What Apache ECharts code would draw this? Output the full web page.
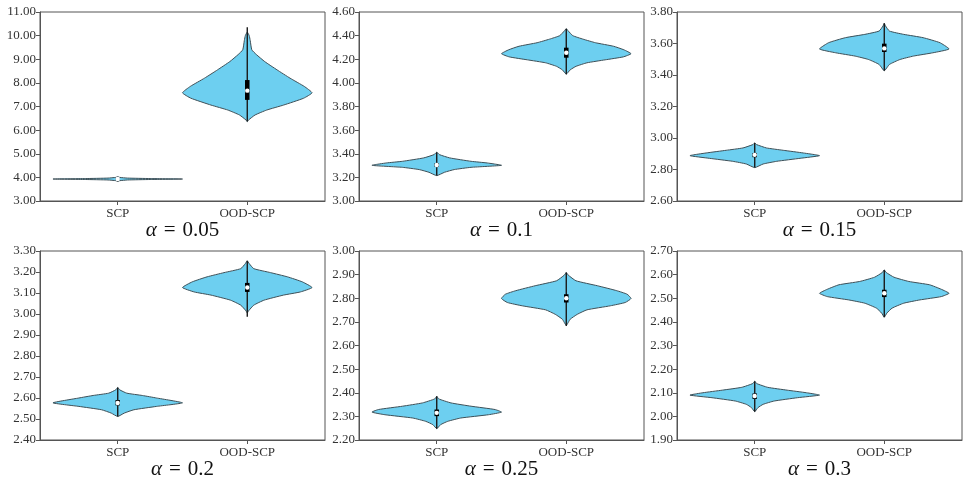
<!DOCTYPE html>
<html>
<head>
<meta charset="utf-8">
<script src="https://cdn.jsdelivr.net/npm/echarts@6/dist/echarts.min.js"></script>
<style>
  html, body { margin: 0; padding: 0; background: #fff; }
  #chart { width: 969px; height: 485px; }
</style>
</head>
<body>
<div id="chart"></div>
<script>
// panel labels and axes
const alphas = ['0.05', '0.1', '0.15', '0.2', '0.25', '0.3'];
const categories = ['SCP', 'OOD-SCP'];
const yMin = [3, 3.0, 2.6, 2.4, 2.2, 1.9];
const yMax = [11, 4.6, 3.8, 3.3, 3.0, 2.7];
const yStep = [1, 0.2, 0.2, 0.1, 0.1, 0.1];

// violin outlines: [value, relative half width]
const scpProfiles = [
  [[4.03, 0], [4.0, 0.03], [3.97, 0.15], [3.95, 0.5], [3.93, 1], [3.91, 0.5], [3.89, 0.15], [3.86, 0.03], [3.83, 0]],
  [[3.413, 0], [3.393, 0.04], [3.365, 0.2], [3.336, 0.53], [3.322, 0.78], [3.302, 1], [3.285, 0.53], [3.266, 0.27], [3.243, 0.12], [3.215, 0]],
  [[2.969, 0], [2.958, 0.03], [2.937, 0.18], [2.922, 0.44], [2.905, 0.75], [2.888, 1], [2.871, 0.7], [2.852, 0.34], [2.835, 0.13], [2.812, 0]],
  [[2.65, 0], [2.639, 0.03], [2.623, 0.14], [2.612, 0.38], [2.6, 0.6], [2.577, 1], [2.56, 0.6], [2.544, 0.25], [2.528, 0.1], [2.512, 0]],
  [[2.385, 0], [2.374, 0.03], [2.357, 0.22], [2.343, 0.53], [2.329, 0.9], [2.318, 1], [2.307, 0.8], [2.293, 0.37], [2.279, 0.17], [2.265, 0.06], [2.248, 0]],
  [[2.149, 0], [2.139, 0.03], [2.123, 0.2], [2.111, 0.5], [2.10, 0.8], [2.09, 1], [2.079, 0.66], [2.065, 0.3], [2.051, 0.13], [2.037, 0.05], [2.02, 0]]
];
const oodProfiles = [
  [[10.15, 0], [10.0, 0.03], [9.8, 0.045], [9.4, 0.07], [9.2, 0.14], [8.9, 0.27], [8.55, 0.46], [8.2, 0.66], [7.85, 0.88], [7.58, 1], [7.35, 0.87], [7.06, 0.56], [6.85, 0.3], [6.64, 0.12], [6.43, 0.02], [6.36, 0]],
  [[4.459, 0], [4.44, 0.03], [4.40, 0.1], [4.37, 0.26], [4.34, 0.45], [4.31, 0.73], [4.28, 0.89], [4.247, 1], [4.22, 0.88], [4.195, 0.6], [4.17, 0.32], [4.14, 0.15], [4.11, 0.06], [4.074, 0]],
  [[3.728, 0], [3.711, 0.02], [3.679, 0.08], [3.658, 0.3], [3.637, 0.6], [3.605, 0.86], [3.565, 1], [3.541, 0.75], [3.52, 0.45], [3.498, 0.24], [3.467, 0.08], [3.427, 0]],
  [[3.253, 0], [3.24, 0.03], [3.216, 0.1], [3.197, 0.36], [3.177, 0.62], [3.153, 0.85], [3.126, 1], [3.105, 0.82], [3.09, 0.56], [3.066, 0.26], [3.042, 0.1], [3.015, 0.02], [3.005, 0]],
  [[2.909, 0], [2.898, 0.03], [2.874, 0.15], [2.853, 0.48], [2.832, 0.78], [2.817, 0.94], [2.799, 1], [2.782, 0.91], [2.768, 0.68], [2.751, 0.32], [2.732, 0.17], [2.711, 0.06], [2.685, 0]],
  [[2.62, 0], [2.609, 0.03], [2.589, 0.15], [2.571, 0.38], [2.557, 0.7], [2.538, 0.88], [2.521, 1], [2.507, 0.88], [2.493, 0.55], [2.479, 0.3], [2.458, 0.12], [2.437, 0.04], [2.42, 0]]
];

// inner box: [whisker low, q1, median, q3, whisker high]
const scpStats = [
  [3.83, 3.91, 3.93, 3.95, 4.03],
  [3.215, 3.29, 3.305, 3.32, 3.413],
  [2.812, 2.878, 2.893, 2.905, 2.969],
  [2.512, 2.565, 2.576, 2.59, 2.65],
  [2.248, 2.301, 2.315, 2.329, 2.385],
  [2.02, 2.074, 2.086, 2.097, 2.149]
];
const oodStats = [
  [6.36, 7.28, 7.67, 8.12, 10.35],
  [4.074, 4.213, 4.255, 4.298, 4.459],
  [3.427, 3.546, 3.569, 3.599, 3.728],
  [2.987, 3.105, 3.126, 3.148, 3.253],
  [2.683, 2.782, 2.800, 2.817, 2.909],
  [2.42, 2.505, 2.521, 2.536, 2.62]
];

const font = 'Liberation Serif, Times New Roman, serif';
const gridLeft = [40, 359, 677];
const gridTop = [12, 251];
const gridW = 285, gridH = 189;
const halfWidth = 0.5;

const chart = echarts.init(document.getElementById('chart'));

const grids = [], xAxes = [], yAxes = [], series = [], graphics = [];

alphas.forEach((a, p) => {
  const col = p % 3, row = Math.floor(p / 3);
  grids.push({
    left: gridLeft[col], top: gridTop[row], width: gridW, height: gridH,
    show: true, borderColor: '#555', borderWidth: 1, backgroundColor: 'transparent'
  });
  xAxes.push({
    type: 'value', gridIndex: p, min: 0.4, max: 2.6,
    axisLine: { show: true, lineStyle: { color: '#555' } },
    axisTick: { show: true, customValues: [1, 2], length: 4, lineStyle: { color: '#555' } },
    axisLabel: {
      customValues: [1, 2], margin: 6, color: '#333', fontFamily: font, fontSize: 13,
      formatter: v => categories[Math.round(v) - 1]
    },
    splitLine: { show: false }
  });
  yAxes.push({
    type: 'value', gridIndex: p, min: yMin[p], max: yMax[p], interval: yStep[p],
    axisLine: { show: true, lineStyle: { color: '#555' } },
    axisTick: { show: true, length: 4, lineStyle: { color: '#555' } },
    axisLabel: { margin: 4, color: '#333', fontFamily: font, fontSize: 13, formatter: v => v.toFixed(2) },
    splitLine: { show: false }
  });
  series.push({
    type: 'custom', xAxisIndex: p, yAxisIndex: p,
    data: [[1, scpStats[p][2]], [2, oodStats[p][2]]],
    renderItem: (params, api) => {
      const k = params.dataIndex;
      const prof = (k === 0 ? scpProfiles : oodProfiles)[p];
      const st = (k === 0 ? scpStats : oodStats)[p];
      const xc = api.value(0);
      const right = prof.map(([y, w]) => api.coord([xc + w * halfWidth, y]));
      const left = prof.slice(1, -1).reverse().map(([y, w]) => api.coord([xc - w * halfWidth, y]));
      const lo = api.coord([xc, st[0]]), q1 = api.coord([xc, st[1]]);
      const md = api.coord([xc, st[2]]), q3 = api.coord([xc, st[3]]);
      const hi = api.coord([xc, st[4]]);
      return {
        type: 'group',
        children: [
          { type: 'polygon', shape: { points: right.concat(left), smooth: 0.15 },
            style: { fill: '#6dcff0', stroke: '#3d4f57', lineWidth: 1 } },
          { type: 'line', shape: { x1: lo[0], y1: lo[1], x2: hi[0], y2: hi[1] },
            style: { stroke: '#1a1a1a', lineWidth: 1.4 } },
          { type: 'line', shape: { x1: q1[0], y1: q1[1], x2: q3[0], y2: q3[1] },
            style: { stroke: '#000', lineWidth: 4.5 } },
          { type: 'circle', shape: { cx: md[0], cy: md[1], r: 2.2 },
            style: { fill: '#fff' } }
        ]
      };
    }
  });
  graphics.push({
    type: 'text',
    x: gridLeft[col] + gridW / 2, y: gridTop[row] + gridH + 29,
    style: {
      text: '{a|α}{e|=}0.' + a.split('.')[1],
      rich: {
        a: { fontStyle: 'italic', fontFamily: font, fontSize: 21 },
        e: { fontFamily: font, fontSize: 21, padding: [0, 7, 0, 7] }
      },
      fontFamily: font, fontSize: 21, fill: '#111', align: 'center', verticalAlign: 'middle'
    }
  });
});

chart.setOption({
  animation: false,
  grid: grids,
  xAxis: xAxes,
  yAxis: yAxes,
  series: series,
  graphic: graphics
});
</script>
</body>
</html>
